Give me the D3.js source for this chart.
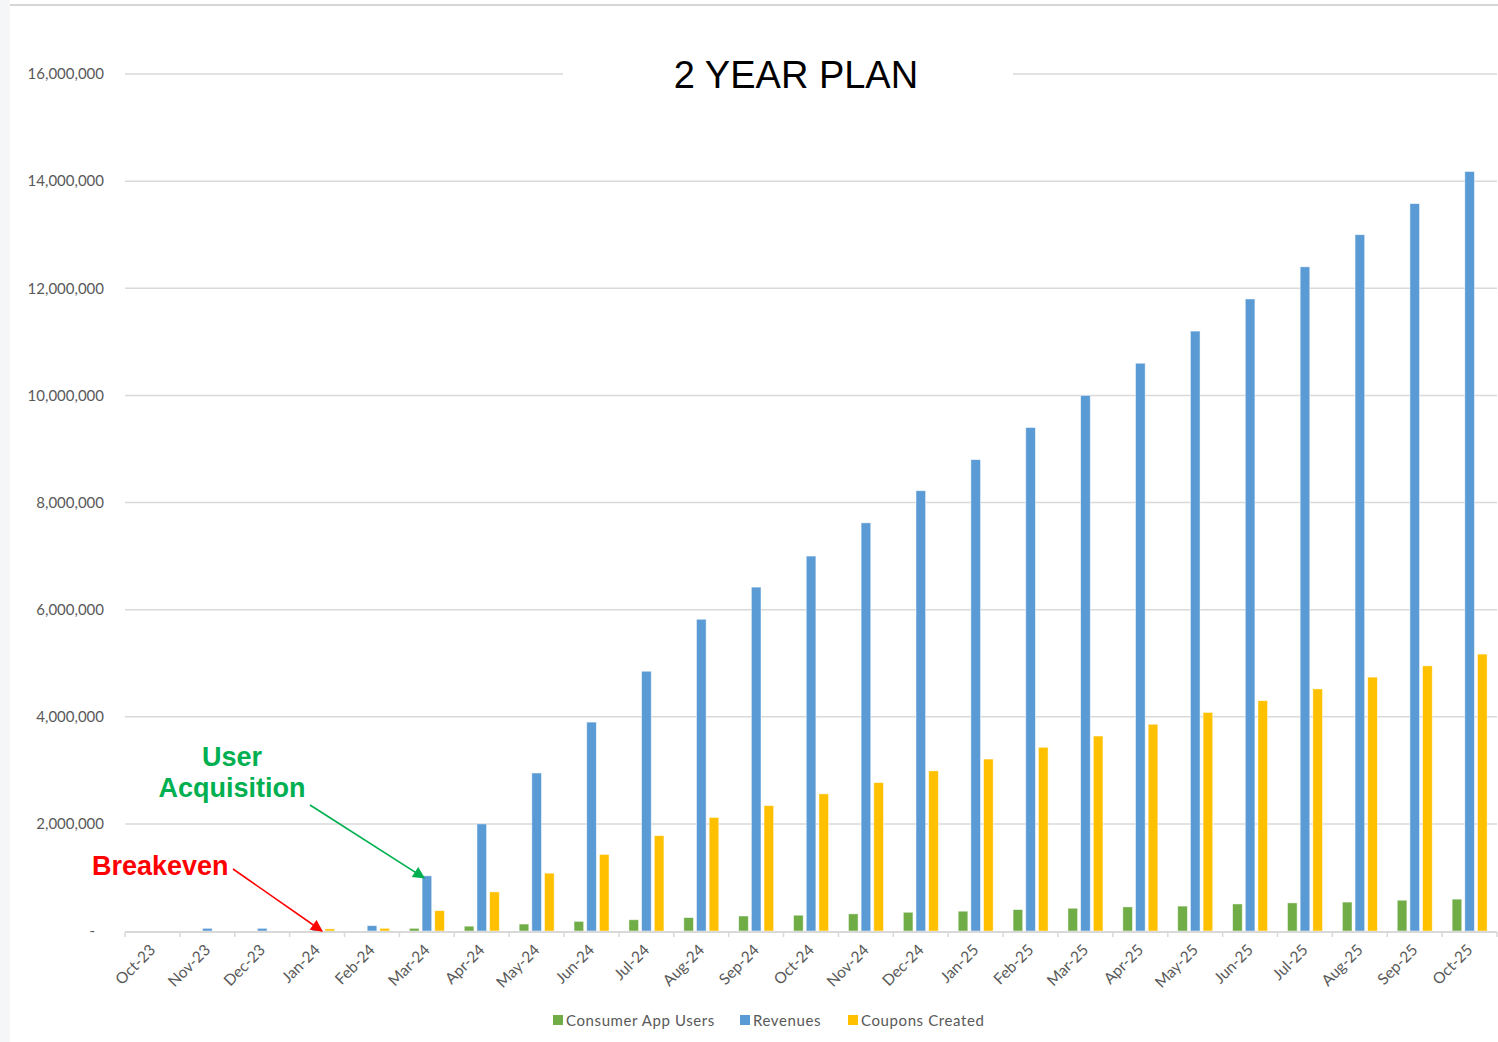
<!DOCTYPE html>
<html>
<head>
<meta charset="utf-8">
<script src="https://cdn.jsdelivr.net/npm/d3@7"></script>
<style>
html,body{margin:0;padding:0;background:#fff;}
svg{display:block;}
</style>
</head>
<body>
<svg id="chart" width="1498" height="1042"></svg>
<script>
const months = ["Oct-23","Nov-23","Dec-23","Jan-24","Feb-24","Mar-24","Apr-24","May-24","Jun-24","Jul-24","Aug-24","Sep-24","Oct-24","Nov-24","Dec-24","Jan-25","Feb-25","Mar-25","Apr-25","May-25","Jun-25","Jul-25","Aug-25","Sep-25","Oct-25"];
const consumerAppUsers = [0,0,0,0,0,50000,90000,130000,180000,210000,250000,280000,295000,320000,350000,370000,400000,425000,450000,465000,505000,525000,540000,575000,595000];
const revenues = [0,50000,50000,30000,100000,1030000,2000000,2950000,3900000,4850000,5820000,6420000,7000000,7620000,8220000,8800000,9400000,10000000,10600000,11200000,11800000,12400000,13000000,13580000,14180000];
const couponsCreated = [0,0,0,40000,50000,380000,730000,1080000,1430000,1780000,2120000,2340000,2560000,2770000,2990000,3210000,3430000,3640000,3860000,4080000,4300000,4520000,4740000,4950000,5170000];
const seriesNames = ["Consumer App Users","Revenues","Coupons Created"];
const yTicks = [0,2000000,4000000,6000000,8000000,10000000,12000000,14000000,16000000];
const title = "2 YEAR PLAN";

const colors = {"Consumer App Users":"#70ad47","Revenues":"#5b9bd5","Coupons Created":"#ffc000"};
const seriesData = {"Consumer App Users":consumerAppUsers,"Revenues":revenues,"Coupons Created":couponsCreated};

const svg = d3.select("#chart");
const font = "Lato, 'Open Sans', sans-serif";
const grey = "#595959";

// page decorations (slide edge)
svg.append("rect").attr("x",0).attr("y",0).attr("width",10).attr("height",1042).attr("fill","#f4f6f8");
svg.append("line").attr("x1",10).attr("x2",1498).attr("y1",5).attr("y2",5).attr("stroke","#d6d6d6").attr("stroke-width",2);

const x = d3.scaleBand().domain(months).range([125,1497]).padding(0);
const x1 = d3.scaleBand().domain(seriesNames).range([10,45]).paddingInner(0.24).paddingOuter(0);
const y = d3.scaleLinear().domain([0,16000000]).range([931,74]);

// gridlines
svg.append("g").selectAll("line").data(yTicks.filter(d=>d>0)).join("line")
  .attr("x1",125).attr("x2",1497)
  .attr("y1",d=>y(d)).attr("y2",d=>y(d))
  .attr("stroke","#d9d9d9").attr("stroke-width",1.5);

// y axis labels
const yAxis = d3.axisLeft(y).tickValues(yTicks).tickSize(0).tickPadding(0)
  .tickFormat(d => d===0 ? "-" : d3.format(",")(d));
const gy = svg.append("g").attr("transform","translate(104,0)").call(yAxis);
gy.select(".domain").remove();
gy.selectAll("text").attr("font-family",font).attr("font-size",15).attr("fill",grey)
  .attr("dx", d => d===0 ? -9 : 0);

// bars
const groups = svg.append("g").selectAll("g").data(months).join("g")
  .attr("transform",d=>`translate(${x(d)},0)`);
groups.selectAll("rect").data((m,i)=>seriesNames.map(s=>({s, v:seriesData[s][i]}))).join("rect")
  .attr("x",d=>x1(d.s)).attr("width",x1.bandwidth())
  .attr("y",d=>y(d.v)).attr("height",d=>y(0)-y(d.v))
  .attr("fill",d=>colors[d.s])
  .attr("stroke",d=>d.v>0?"#ffffff":"none").attr("stroke-width",0.8).attr("stroke-opacity",0.6);

// x axis
svg.append("line").attr("x1",125).attr("x2",1497).attr("y1",y(0)+1).attr("y2",y(0)+1)
  .attr("stroke","#d9d9d9").attr("stroke-width",2);
svg.append("g").selectAll("line").data(months.map(m=>x(m)).concat([x.range()[1]])).join("line")
  .attr("x1",d=>d).attr("x2",d=>d).attr("y1",y(0)+1).attr("y2",y(0)+6)
  .attr("stroke","#d9d9d9").attr("stroke-width",1.5);
const xAxis = d3.axisBottom(x).tickSize(0).tickPadding(0);
const gx = svg.append("g").attr("transform",`translate(0,${y(0)})`).call(xAxis);
gx.select(".domain").remove();
gx.selectAll("text").attr("font-family",font).attr("font-size",15.5).attr("fill",grey)
  .attr("text-anchor","end").attr("dy",0).attr("y",0)
  .attr("transform","translate(4,20) rotate(-45)");

// title with white background
const tg = svg.append("g");
tg.append("rect").attr("x",563).attr("y",y(16000000)-20).attr("width",450).attr("height",40).attr("fill","#fff");
tg.append("text").attr("x",796).attr("y",y(16000000)+14).attr("text-anchor","middle")
  .attr("font-family","'Liberation Sans', Arial, sans-serif").attr("font-size",38).attr("fill","#000")
  .text(title);

// legend
const legendItems = [{s:"Consumer App Users",x:553},{s:"Revenues",x:740},{s:"Coupons Created",x:848}];
const lg = svg.append("g").selectAll("g").data(legendItems).join("g").attr("transform",d=>`translate(${d.x},1020)`);
lg.append("rect").attr("x",0).attr("y",-5).attr("width",10).attr("height",10).attr("fill",d=>colors[d.s]);
lg.append("text").attr("x",13).attr("y",5.5).attr("font-family",font).attr("font-size",15)
  .attr("letter-spacing",0.6).attr("fill",grey).text(d=>d.s);

// annotations
const defs = svg.append("defs");
function marker(id,color){
  defs.append("marker").attr("id",id).attr("viewBox","0 0 10 10").attr("refX",9).attr("refY",5)
    .attr("markerWidth",14).attr("markerHeight",12).attr("markerUnits","userSpaceOnUse").attr("orient","auto")
    .append("path").attr("d","M0,0 L10,5 L0,10 z").attr("fill",color);
}
marker("arrG","#00b050"); marker("arrR","#ff0000");

const uaTipX = x("Mar-24")+x1("Revenues")+2, uaTipY = y(revenues[5])+2;
svg.append("line").attr("x1",310).attr("y1",805).attr("x2",uaTipX).attr("y2",uaTipY)
  .attr("stroke","#00b050").attr("stroke-width",1.6).attr("marker-end","url(#arrG)");
const beTipX = x("Jan-24")+x1("Revenues")+x1.bandwidth(), beTipY = y(0);
svg.append("line").attr("x1",233).attr("y1",869).attr("x2",beTipX).attr("y2",beTipY)
  .attr("stroke","#ff0000").attr("stroke-width",1.6).attr("marker-end","url(#arrR)");

const af = "'Liberation Sans', Arial, sans-serif";
svg.append("text").attr("x",232).attr("y",766).attr("text-anchor","middle").attr("font-family",af)
  .attr("font-weight","bold").attr("font-size",27).attr("fill","#00b050").text("User");
svg.append("text").attr("x",232).attr("y",797).attr("text-anchor","middle").attr("font-family",af)
  .attr("font-weight","bold").attr("font-size",27).attr("fill","#00b050").text("Acquisition");
svg.append("text").attr("x",92).attr("y",875).attr("font-family",af)
  .attr("font-weight","bold").attr("font-size",27).attr("fill","#ff0000").text("Breakeven");
</script>
</body>
</html>
